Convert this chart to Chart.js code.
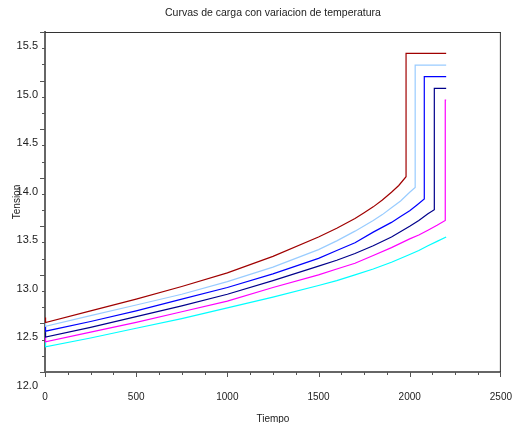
<!DOCTYPE html>
<html>
<head>
<meta charset="utf-8">
<title>Curvas de carga</title>
<script src="https://cdn.jsdelivr.net/npm/chart.js@4/dist/chart.umd.min.js"></script>
<style>
  html, body { margin: 0; padding: 0; background: #fff; }
  #chart { display: block; }
</style>
</head>
<body>
<canvas id="chart" width="512" height="423"></canvas>
<script>
// ---- data ----
const tiempoRojo = [0, 3, 250, 500, 750, 1000, 1250, 1500, 1600, 1700, 1750, 1800, 1850, 1900, 1940, 1980, 1980, 2200];
const tensionRojo = [12.56, 12.51, 12.63, 12.75, 12.88, 13.02, 13.19, 13.39, 13.48, 13.58, 13.64, 13.70, 13.77, 13.85, 13.92, 14.01, 15.28, 15.28];

const tiempoCeleste = [0, 3, 250, 500, 750, 1000, 1250, 1500, 1600, 1700, 1800, 1850, 1900, 1950, 2000, 2030, 2030, 2200];
const tensionCeleste = [12.52, 12.47, 12.58, 12.69, 12.80, 12.93, 13.08, 13.26, 13.35, 13.45, 13.56, 13.62, 13.69, 13.76, 13.85, 13.90, 15.16, 15.16];

const tiempoAzul = [0, 3, 250, 500, 750, 1000, 1250, 1500, 1600, 1700, 1800, 1900, 1950, 2000, 2040, 2080, 2080, 2200];
const tensionAzul = [12.47, 12.42, 12.52, 12.63, 12.75, 12.87, 13.01, 13.17, 13.25, 13.33, 13.44, 13.54, 13.60, 13.66, 13.72, 13.78, 15.04, 15.04];

const tiempoMarino = [0, 3, 250, 500, 750, 1000, 1250, 1500, 1600, 1700, 1800, 1900, 2000, 2050, 2100, 2135, 2135, 2200];
const tensionMarino = [12.41, 12.36, 12.46, 12.57, 12.68, 12.80, 12.94, 13.09, 13.15, 13.22, 13.30, 13.39, 13.50, 13.56, 13.63, 13.67, 14.92, 14.92];

const tiempoMagenta = [0, 3, 250, 500, 750, 1000, 1250, 1500, 1600, 1700, 1800, 1900, 2000, 2050, 2100, 2150, 2195, 2195, 2200];
const tensionMagenta = [12.36, 12.31, 12.41, 12.51, 12.62, 12.73, 12.87, 13.00, 13.06, 13.12, 13.20, 13.28, 13.37, 13.41, 13.46, 13.51, 13.56, 14.80, 14.80];

const tiempoCian = [0, 3, 250, 500, 750, 1000, 1250, 1500, 1600, 1700, 1800, 1900, 2000, 2050, 2100, 2150, 2200];
const tensionCian = [12.31, 12.26, 12.35, 12.45, 12.55, 12.66, 12.77, 12.89, 12.94, 13.00, 13.06, 13.13, 13.21, 13.25, 13.30, 13.345, 13.39];

const xTickValues = [0, 500, 1000, 1500, 2000, 2500];
const yTickValues = [12.0, 12.5, 13.0, 13.5, 14.0, 14.5, 15.0, 15.5];

const FONT = "'Liberation Sans', Arial, sans-serif";

function toPoints(ts, vs) {
  return ts.map((t, i) => ({ x: t, y: vs[i] }));
}

function serie(ts, vs, color) {
  return {
    data: toPoints(ts, vs),
    borderColor: color,
    borderWidth: 1.2,
    pointRadius: 0,
    tension: 0,
    fill: false
  };
}

// scilab-like frame: top/right sides plus major and minor tick marks
const scilabAxes = {
  id: 'scilabAxes',
  afterDraw(chart) {
    const { ctx, chartArea: a } = chart;
    const x = chart.scales.x, y = chart.scales.y;
    ctx.save();
    ctx.strokeStyle = '#333';
    ctx.lineWidth = 1;
    ctx.beginPath();
    ctx.moveTo(a.left, a.top + 0.5); ctx.lineTo(a.right, a.top + 0.5);
    ctx.moveTo(a.right - 0.5, a.top); ctx.lineTo(a.right - 0.5, a.bottom);
    ctx.stroke();

    ctx.strokeStyle = '#555';
    ctx.beginPath();
    // x: 4 sub-intervals between labelled ticks
    for (let i = 0; i < xTickValues.length - 1; i++) {
      const step = (xTickValues[i + 1] - xTickValues[i]) / 4;
      for (let k = 0; k < 4; k++) {
        const px = Math.round(x.getPixelForValue(xTickValues[i] + k * step)) + 0.5;
        ctx.moveTo(px, a.bottom);
        ctx.lineTo(px, a.bottom + (k === 0 ? 5 : 3));
      }
    }
    const pxEnd = Math.round(x.getPixelForValue(xTickValues[xTickValues.length - 1])) - 0.5;
    ctx.moveTo(pxEnd, a.bottom); ctx.lineTo(pxEnd, a.bottom + 5);
    // y: 3 sub-intervals between labelled ticks
    for (let i = 0; i < yTickValues.length - 1; i++) {
      const step = (yTickValues[i + 1] - yTickValues[i]) / 3;
      for (let k = 0; k < 3; k++) {
        const py = Math.round(y.getPixelForValue(yTickValues[i] + k * step)) + 0.5;
        ctx.moveTo(a.left, py);
        ctx.lineTo(a.left - (k === 0 ? 5 : 3), py);
      }
    }
    const pyEnd = Math.round(y.getPixelForValue(yTickValues[yTickValues.length - 1])) + 0.5;
    ctx.moveTo(a.left, pyEnd); ctx.lineTo(a.left - 5, pyEnd);
    ctx.stroke();
    ctx.restore();
  }
};

new Chart(document.getElementById('chart'), {
  type: 'line',
  data: {
    datasets: [
      serie(tiempoRojo, tensionRojo, '#a00000'),
      serie(tiempoCeleste, tensionCeleste, '#99ccff'),
      serie(tiempoAzul, tensionAzul, '#0000ff'),
      serie(tiempoMarino, tensionMarino, '#00008b'),
      serie(tiempoMagenta, tensionMagenta, '#ff00ff'),
      serie(tiempoCian, tensionCian, '#00ffff')
    ]
  },
  options: {
    responsive: false,
    animation: false,
    layout: { padding: { right: 0 } },
    plugins: {
      legend: { display: false },
      tooltip: { enabled: false },
      title: {
        display: true,
        fullSize: false,
        text: 'Curvas de carga con variacion de temperatura',
        color: '#222',
        font: { family: FONT, size: 10.5, weight: 'normal', lineHeight: 1.2 },
        padding: { top: 7, bottom: 12.4 }
      }
    },
    scales: {
      x: {
        type: 'linear',
        min: 0,
        max: 2500,
        afterBuildTicks: s => { s.ticks = xTickValues.map(v => ({ value: v })); },
        afterFit: s => { s.height = 51; },
        // tick marks are drawn by the plugin; tickLength only spaces the labels
        grid: { display: false, drawTicks: true, tickLength: 19 },
        border: { display: true, color: '#666', width: 2 },
        ticks: {
          color: '#222',
          padding: 0,
          maxRotation: 0,
          font: { family: FONT, size: 10 },
          callback: v => String(v)
        },
        title: {
          display: true,
          text: 'Tiempo',
          color: '#222',
          font: { family: FONT, size: 10, lineHeight: 1.2 },
          padding: { top: 0, bottom: -2 }
        }
      },
      y: {
        type: 'linear',
        min: 12,
        max: 15.5,
        afterBuildTicks: s => { s.ticks = yTickValues.map(v => ({ value: v })); },
        afterFit: s => { s.width = 45; },
        grid: { display: false, drawTicks: false },
        border: { display: true, color: '#666', width: 2 },
        ticks: {
          color: '#222',
          padding: 7,
          labelOffset: 14,
          font: { family: FONT, size: 11 },
          callback: v => Number(v).toFixed(1)
        },
        title: {
          display: true,
          text: 'Tension',
          color: '#222',
          font: { family: FONT, size: 10, lineHeight: 1.2 },
          padding: { top: 11, bottom: 0 }
        }
      }
    }
  },
  plugins: [scilabAxes]
});
</script>
</body>
</html>
